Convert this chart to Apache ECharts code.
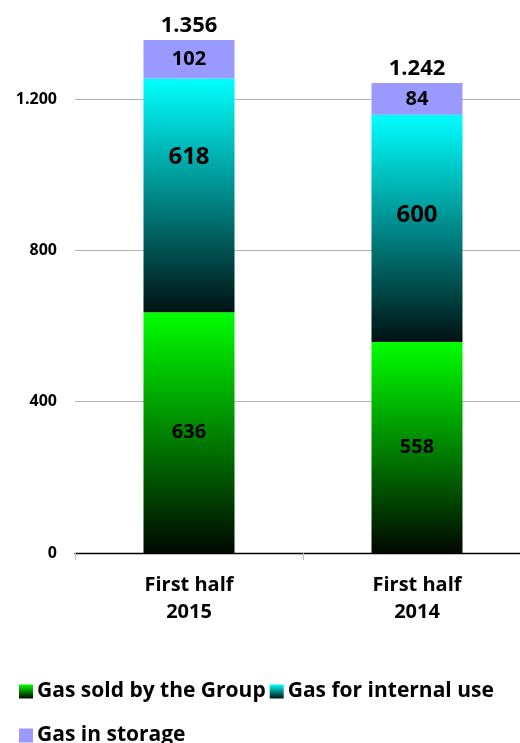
<!DOCTYPE html>
<html>
<head>
<meta charset="utf-8">
<script src="https://cdn.jsdelivr.net/npm/echarts@6/dist/echarts.min.js"></script>
<style>
html,body{margin:0;padding:0;background:#fff;}
#chart{width:520px;height:743px;}
</style>
</head>
<body>
<div id="chart"></div>
<script>
// Gas volumes by use, two half-year periods
const categories = ['First half\n2015', 'First half\n2014'];
const gasSold = [636, 558];
const gasInternal = [618, 600];
const gasStorage = [102, 84];
const yTicks = [0, 400, 800, 1200];

const totals = categories.map((_, i) => gasSold[i] + gasInternal[i] + gasStorage[i]);

// thousands separator as a dot
function fmt(v) {
  return String(v).replace(/\B(?=(\d{3})+(?!\d))/g, '.');
}

const FONT = '"Open Sans"';
const chart = echarts.init(document.getElementById('chart'), null, { renderer: 'canvas' });

function vGrad(top, bottom) {
  return new echarts.graphic.LinearGradient(0, 0, 0, 1, [
    { offset: 0, color: top },
    { offset: 1, color: bottom }
  ]);
}

const internalOffsets = [-38, -13];

const legendText = { fontFamily: FONT, fontWeight: 'bold', fontSize: 21, color: '#000', padding: [0, 0, 0, -1] };

chart.setOption({
  animation: false,
  backgroundColor: '#fff',
  grid: { left: 75, top: 23.3, width: 456, height: 529.7, containLabel: false, outerBoundsMode: 'none' },
  legend: [
    {
      left: 14, top: 676, itemWidth: 14, itemHeight: 14, itemGap: 4,
      icon: 'rect',
      data: ['Gas sold by the Group', 'Gas for internal use'],
      textStyle: legendText
    },
    {
      left: 14, top: 720, itemWidth: 14, itemHeight: 14,
      icon: 'rect',
      data: ['Gas in storage'],
      textStyle: legendText
    }
  ],
  xAxis: {
    type: 'category',
    data: categories,
    axisLine: { show: true, lineStyle: { color: '#000', width: 1.3 } },
    axisTick: { show: true, length: 7, lineStyle: { color: '#c0c0c0' } },
    axisLabel: {
      fontFamily: FONT, fontWeight: 'bold', fontSize: 20, color: '#000',
      lineHeight: 27, margin: 19
    }
  },
  yAxis: {
    type: 'value',
    min: yTicks[0],
    max: 1400,
    interval: 400,
    axisLine: { show: false },
    axisTick: { show: false },
    axisLabel: {
      fontFamily: FONT, fontWeight: 'bold', fontSize: 16, color: '#000',
      margin: 18, showMaxLabel: false,
      formatter: v => (yTicks.indexOf(v) >= 0 ? fmt(v) : '')
    },
    splitLine: {
      show: true,
      lineStyle: { color: ['#b3b3b3', '#b3b3b3', '#b3b3b3', '#b3b3b3', 'rgba(0,0,0,0)'], width: 1 }
    }
  },
  series: [
    {
      name: 'Gas sold by the Group',
      type: 'bar', stack: 'gas', barWidth: 91,
      data: gasSold,
      itemStyle: { color: vGrad('#00ff00', '#000800') },
      label: {
        show: true, position: 'inside',
        fontFamily: FONT, fontWeight: 'bold', fontSize: 20, color: '#000',
        formatter: p => fmt(p.value)
      }
    },
    {
      name: 'Gas for internal use',
      type: 'bar', stack: 'gas', barWidth: 91,
      data: gasInternal.map((v, i) => ({ value: v, label: { offset: [0, internalOffsets[i]] } })),
      itemStyle: { color: vGrad('#00ffff', '#001212') },
      label: {
        show: true, position: 'inside',
        fontFamily: FONT, fontWeight: 'bold', fontSize: 24, color: '#000',
        formatter: p => fmt(p.value)
      }
    },
    {
      name: 'Gas in storage',
      type: 'bar', stack: 'gas', barWidth: 91,
      data: gasStorage,
      itemStyle: { color: '#9999ff' },
      label: {
        show: true, position: 'inside',
        fontFamily: FONT, fontWeight: 'bold', fontSize: 20, color: '#000',
        formatter: p => fmt(p.value)
      }
    },
    {
      name: 'total',
      type: 'bar', stack: 'gas', barWidth: 91,
      data: totals.map(() => 0),
      itemStyle: { color: 'rgba(0,0,0,0)' },
      label: {
        show: true, position: 'top', distance: 3,
        fontFamily: FONT, fontWeight: 'bold', fontSize: 22, color: '#000',
        formatter: p => fmt(totals[p.dataIndex])
      },
      tooltip: { show: false }
    }
  ]
});
</script>
</body>
</html>
